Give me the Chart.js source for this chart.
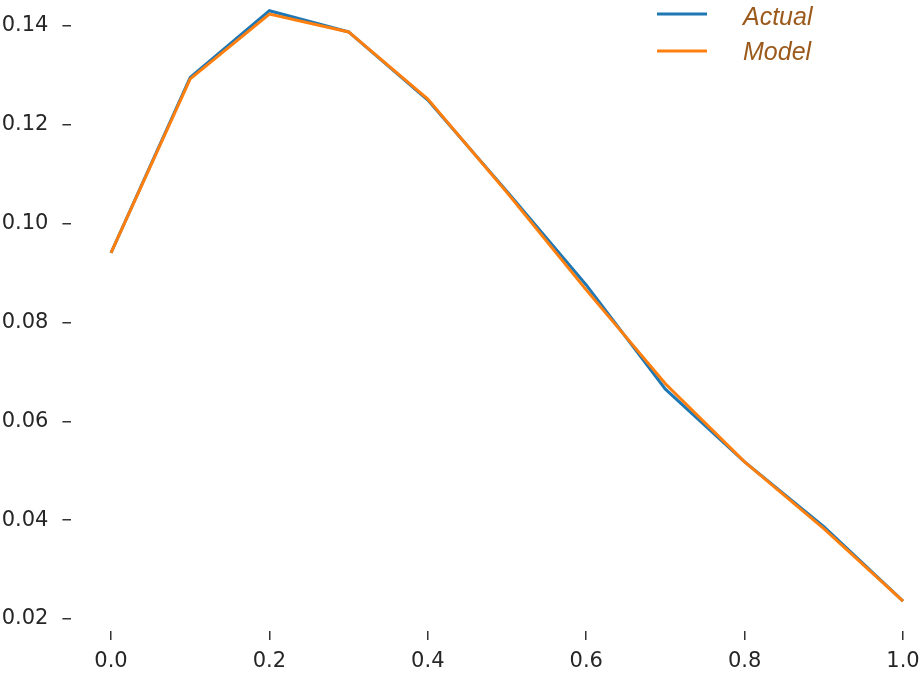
<!DOCTYPE html>
<html lang="en">
<head>
  <meta charset="UTF-8">
  <title>Actual vs Model</title>
  <script src="https://cdn.jsdelivr.net/npm/chart.js"></script>
  <style>
    html, body { margin: 0; padding: 0; background: #fff; }
    #wrap { width: 921px; height: 679px; }
  </style>
</head>
<body>
  <div id="wrap"><canvas id="lineChart"></canvas></div>

  <script>
    // data
    const xValues = [0.0, 0.1, 0.2, 0.3, 0.4, 0.5, 0.6, 0.7, 0.8, 0.9, 1.0];
    const actual = [0.0941, 0.1296, 0.1431, 0.1388, 0.1250, 0.1065, 0.0876, 0.0665, 0.0518, 0.0387, 0.0236];
    const model = [0.0941, 0.1293, 0.1424, 0.1388, 0.1252, 0.1063, 0.0866, 0.0676, 0.0518, 0.0383, 0.0236];
    const xTicks = [0.0, 0.2, 0.4, 0.6, 0.8, 1.0];
    const yTicks = [0.02, 0.04, 0.06, 0.08, 0.10, 0.12, 0.14];

    const toPoints = ys => xValues.map((x, i) => ({ x: x, y: ys[i] }));

    // legend drawn by hand: line sample, wide gap, italic brown text
    const sideLegend = {
      id: 'sideLegend',
      afterDraw(chart) {
        const ctx = chart.ctx;
        ctx.save();
        ctx.font = 'italic 25px "Liberation Sans", sans-serif';
        ctx.textBaseline = 'middle';
        ctx.textAlign = 'left';
        const lineY = [14, 51];
        const textY = [18, 53];
        [0, 1].forEach((i) => {
          const ds = chart.data.datasets[i];
          ctx.strokeStyle = ds.borderColor;
          ctx.lineWidth = 3;
          ctx.beginPath();
          ctx.moveTo(657, lineY[i]);
          ctx.lineTo(707, lineY[i]);
          ctx.stroke();
          ctx.fillStyle = '#9b5a1c';
          ctx.fillText(ds.label, 743, textY[i]);
        });
        ctx.restore();
      }
    };

    new Chart(document.getElementById('lineChart'), {
      type: 'line',
      data: {
        datasets: [{
          label: 'Actual',
          data: toPoints(actual),
          borderColor: '#1f77b4',
          borderWidth: 3,
          pointRadius: 0,
          tension: 0,
          order: 1
        }, {
          label: 'Model',
          data: toPoints(model),
          borderColor: '#ff7f0e',
          borderWidth: 3,
          pointRadius: 0,
          tension: 0,
          order: 0
        }]
      },
      options: {
        responsive: true,
        maintainAspectRatio: false,
        animation: false,
        layout: { padding: 0 },
        plugins: {
          legend: { display: false },
          tooltip: { enabled: false }
        },
        scales: {
          x: {
            type: 'linear',
            min: -0.05,
            max: 1.0227,
            afterFit: s => { s.height = 48; s.paddingLeft = 0; s.paddingRight = 0; },
            afterBuildTicks: s => { s.ticks = xTicks.map(v => ({ value: v })); },
            border: { display: false },
            grid: { drawOnChartArea: false, drawTicks: true, tickLength: 9, tickColor: '#333', lineWidth: 1.5 },
            ticks: {
              padding: 9,
              color: '#262626',
              font: { family: 'DejaVu Sans', size: 21 },
              callback: v => v.toFixed(1)
            }
          },
          y: {
            min: 0.017572,
            max: 0.145261,
            afterFit: s => { s.width = 71.4; s.paddingTop = 0; s.paddingBottom = 0; },
            afterBuildTicks: s => { s.ticks = yTicks.map(v => ({ value: v })); },
            border: { display: false },
            grid: { drawOnChartArea: false, drawTicks: true, tickLength: 9, tickColor: '#333', lineWidth: 1.5 },
            ticks: {
              padding: 14,
              color: '#262626',
              font: { family: 'DejaVu Sans', size: 21 },
              callback: v => v.toFixed(2)
            }
          }
        }
      },
      plugins: [sideLegend]
    });
  </script>
</body>
</html>
